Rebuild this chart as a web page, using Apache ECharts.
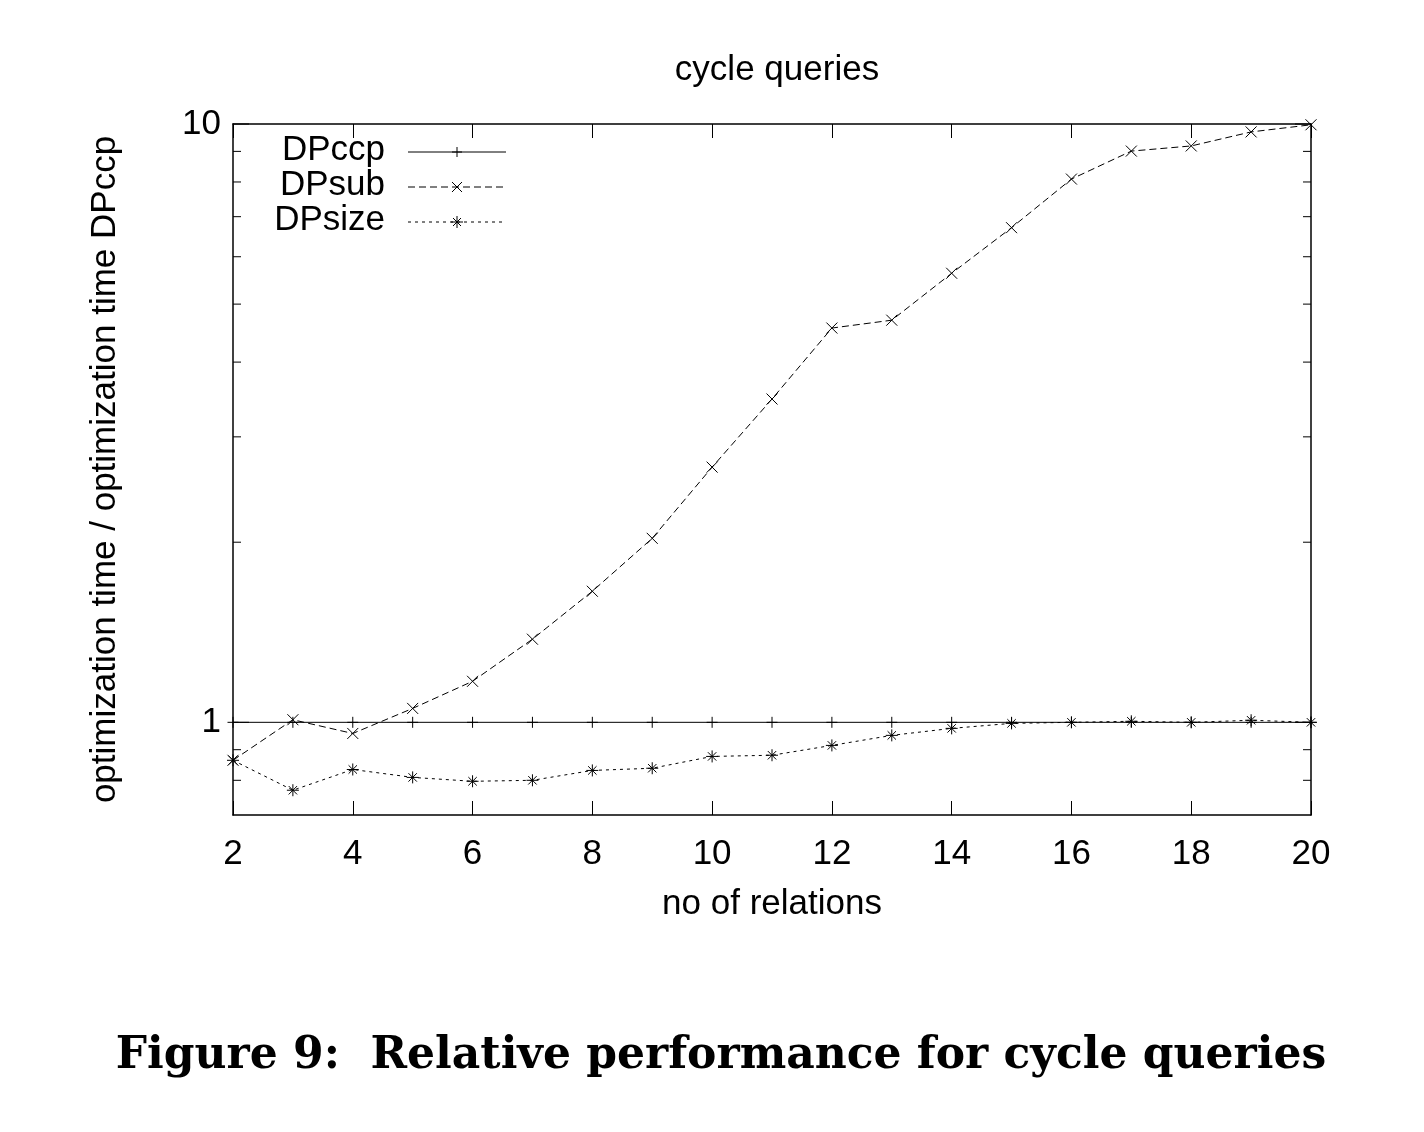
<!DOCTYPE html>
<html><head><meta charset="utf-8">
<script src="https://cdn.jsdelivr.net/npm/echarts@6/dist/echarts.min.js"></script>
<style>html,body{margin:0;padding:0;background:#fff}#c{width:1424px;height:1132px}</style>
</head><body><div id="c"></div>
<script>
const relations = [2,3,4,5,6,7,8,9,10,11,12,13,14,15,16,17,18,19,20];
const dpccp = [1,1,1,1,1,1,1,1,1,1,1,1,1,1,1,1,1,1,1];
const dpsub = [0.864,1.01,0.958,1.055,1.171,1.377,1.656,2.03,2.67,3.47,4.56,4.70,5.63,6.71,8.09,9.01,9.19,9.70,9.97];
const dpsize = [0.864,0.77,0.834,0.809,0.797,0.80,0.831,0.838,0.877,0.881,0.915,0.951,0.977,0.996,1.0,1.004,1.0,1.008,1.0];
const yTicks = [0.8,0.9,1,2,3,4,5,6,7,8,9,10];
const yMajor = [1,10];

const F = 'Liberation Sans, Arial, sans-serif';
const FS = 35;
const sPlus = 'path://M0,5L10,5M5,0L5,10';
const sCross = 'path://M0,0L10,10M10,0L0,10';
const sStar = 'path://M0,5L10,5M5,0L5,10M1.5,1.5L8.5,8.5M8.5,1.5L1.5,8.5';
function pairs(a){return relations.map((x,i)=>[x,a[i]]);}
const ch = echarts.init(document.getElementById('c'));
const mk = {color:'none', borderColor:'#000', borderWidth:1};
ch.setOption({
  animation:false,
  title:{text:'cycle queries', left:772, top:48, textAlign:'center', textStyle:{fontFamily:F,fontSize:FS,fontWeight:'normal',color:'#000'}},
  grid:{left:233,right:113,top:124,bottom:317},
  xAxis:[{type:'value',min:2,max:20,interval:2,name:'no of relations',nameLocation:'middle',nameGap:72,
    nameTextStyle:{fontFamily:F,fontSize:FS,color:'#000'},
    axisLine:{lineStyle:{color:'#000',width:1.5}},axisTick:{inside:true,length:14,lineStyle:{color:'#000'}},
    axisLabel:{fontFamily:F,fontSize:FS,color:'#000',margin:22},splitLine:{show:false}},
   {type:'value',position:'top',min:2,max:20,interval:2,axisLine:{show:true,lineStyle:{color:'#000',width:1.5}},
    axisTick:{inside:true,length:14,lineStyle:{color:'#000'}},axisLabel:{show:false},splitLine:{show:false}}],
  yAxis:[{type:'log',min:0.7,max:10,name:'optimization time / optimization time DPccp',nameLocation:'middle',nameGap:110,
    nameTextStyle:{fontFamily:F,fontSize:FS,color:'#000'},
    axisLine:{show:true,lineStyle:{color:'#000',width:1.5}},axisTick:{show:false},axisLabel:{show:false},splitLine:{show:false}},
   {type:'log',min:0.7,max:10,position:'right',axisLine:{show:true,lineStyle:{color:'#000',width:1.5}},axisTick:{show:false},axisLabel:{show:false},splitLine:{show:false}}],
  series:[
    {name:'DPccp',type:'line',data:pairs(dpccp),symbol:sPlus,symbolSize:11,itemStyle:mk,lineStyle:{color:'#000',width:1}},
    {name:'DPsub',type:'line',data:pairs(dpsub),symbol:sCross,symbolSize:11,itemStyle:mk,lineStyle:{color:'#000',width:1,type:[7,4]}},
    {name:'DPsize',type:'line',data:pairs(dpsize),symbol:sStar,symbolSize:12,itemStyle:mk,lineStyle:{color:'#000',width:1,type:[3,4]}},
    {type:'custom',clip:false,silent:true,data:yTicks.map(v=>[2,v]),
     renderItem:function(params,api){
       const v=yTicks[params.dataIndex]; const maj=yMajor.includes(v);
       const p=api.coord([2,v]), q=api.coord([20,v]); const L=maj?16:8;
       const ch=[{type:'line',shape:{x1:p[0],y1:p[1],x2:p[0]+L,y2:p[1]},style:{stroke:'#000',lineWidth:1}},
                 {type:'line',shape:{x1:q[0],y1:q[1],x2:q[0]-L,y2:q[1]},style:{stroke:'#000',lineWidth:1}}];
       if(maj) ch.push({type:'text',style:{text:String(v),x:p[0]-12,y:p[1],align:'right',verticalAlign:'middle',font:FS+'px '+F,fill:'#000'}});
       return {type:'group',children:ch};
     }}
  ],
  graphic:[
    {type:'text',right:1424-385,top:133,style:{text:'DPccp',font:FS+'px '+F,fill:'#000'}},
    {type:'text',right:1424-385,top:168,style:{text:'DPsub',font:FS+'px '+F,fill:'#000'}},
    {type:'text',right:1424-385,top:203,style:{text:'DPsize',font:FS+'px '+F,fill:'#000'}},
    {type:'line',shape:{x1:408,y1:152,x2:506,y2:152},style:{stroke:'#000',lineWidth:1}},
    {type:'line',shape:{x1:408,y1:187,x2:506,y2:187},style:{stroke:'#000',lineWidth:1,lineDash:[7,4]}},
    {type:'line',shape:{x1:408,y1:222,x2:506,y2:222},style:{stroke:'#000',lineWidth:1,lineDash:[3,4]}},
    {type:'group',x:457,y:152,children:[{type:'line',shape:{x1:-5,y1:0,x2:5,y2:0},style:{stroke:'#000'}},{type:'line',shape:{x1:0,y1:-5,x2:0,y2:5},style:{stroke:'#000'}}]},
    {type:'group',x:457,y:187,children:[{type:'line',shape:{x1:-5,y1:-5,x2:5,y2:5},style:{stroke:'#000'}},{type:'line',shape:{x1:5,y1:-5,x2:-5,y2:5},style:{stroke:'#000'}}]},
    {type:'group',x:457,y:222,children:[{type:'line',shape:{x1:-6,y1:0,x2:6,y2:0},style:{stroke:'#000'}},{type:'line',shape:{x1:0,y1:-6,x2:0,y2:6},style:{stroke:'#000'}},{type:'line',shape:{x1:-4,y1:-4,x2:4,y2:4},style:{stroke:'#000'}},{type:'line',shape:{x1:4,y1:-4,x2:-4,y2:4},style:{stroke:'#000'}}]},
    {type:'text',x:721,y:1057,style:{text:'Figure 9:  Relative performance for cycle queries',font:'bold 44px "DejaVu Serif", serif',fill:'#000',align:'center',verticalAlign:'middle'}}
  ]
});
</script></body></html>
